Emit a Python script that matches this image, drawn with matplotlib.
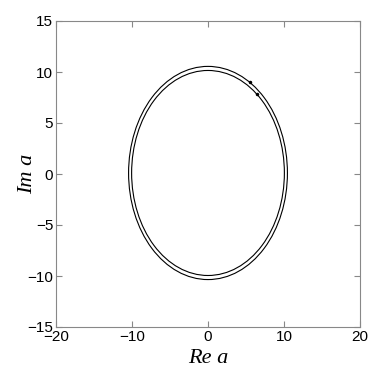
import matplotlib
matplotlib.use("Agg")
import matplotlib.pyplot as plt
from matplotlib.patches import Circle

# Two closed orbits in the complex a-plane (center x, center y, radius)
orbit_cx = [0.0, 0.0]
orbit_cy = [0.1, 0.1]
orbit_r = [10.45, 10.05]

# Marked points
pts_re = [5.5, 6.4]
pts_im = [9.05, 7.84]

xticks = [-20, -10, 0, 10, 20]
yticks = [-15, -10, -5, 0, 5, 10, 15]

plt.rcParams["font.family"] = ["Liberation Sans", "DejaVu Sans"]

fig = plt.figure(figsize=(3.82, 3.82), dpi=100)
ax = fig.add_axes([56 / 382, 1 - 327 / 382, 304 / 382, 306 / 382])

for cx, cy, r in zip(orbit_cx, orbit_cy, orbit_r):
    ax.add_patch(Circle((cx, cy), r, fill=False, edgecolor="black", lw=0.8))

ax.plot(pts_re, pts_im, ".", color="black", ms=3)

ax.set_xlim(-20, 20)
ax.set_ylim(-15, 15)
ax.set_xticks(xticks)
ax.set_yticks(yticks)
ax.tick_params(direction="in", top=True, right=True, labelsize=11,
               length=4, color="#888888", pad=2)
for s in ax.spines.values():
    s.set_color("#888888")
    s.set_linewidth(0.8)

ax.set_xlabel("Re a", family="Liberation Serif", style="italic", fontsize=16,
              labelpad=4)
ax.set_ylabel("Im a", family="Liberation Serif", style="italic", fontsize=16,
              labelpad=-7)

fig.savefig("out.png", dpi=100)
